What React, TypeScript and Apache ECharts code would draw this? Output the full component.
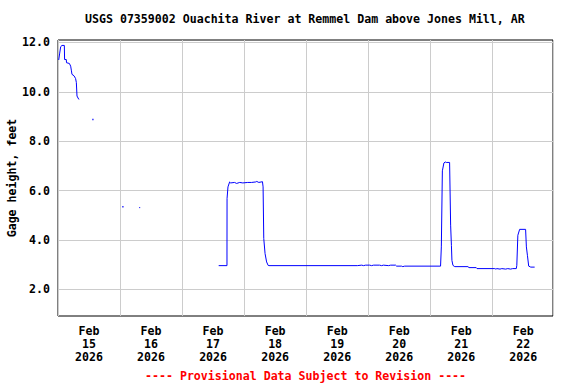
import React, { useEffect, useRef } from "react";
import * as echarts from "echarts";

const TITLE = "USGS 07359002 Ouachita River at Remmel Dam above Jones Mill, AR";
const Y_NAME = "Gage height, feet";
const FOOTER = "---- Provisional Data Subject to Revision ----";

// x in hours since Feb 15 2026 00:00
const X_MAX = 191.5;
const dayLabels = [
  "Feb\n15\n2026",
  "Feb\n16\n2026",
  "Feb\n17\n2026",
  "Feb\n18\n2026",
  "Feb\n19\n2026",
  "Feb\n20\n2026",
  "Feb\n21\n2026",
  "Feb\n22\n2026",
];
const dayLabelHours = [12, 36, 60, 84, 108, 132, 156, 180];
const yTicks = [2, 4, 6, 8, 10, 12];

const hours: number[] = [
  0.27, 0.66, 1.04, 1.55, 2.45, 2.55, 3.2, 3.3, 4.4, 4.9, 5.2, 5.4, 6.2, 6.8, 7.1, 7.35, 7.75, 8.1,
  20,
  31.4, 31.8,
  45,
  62.16, 65.37, 65.4, 65.76, 66.4, 66.8, 68.3, 69.1, 70.3, 71.5, 73.4, 74.9, 76.5, 76.9, 77.7, 79.1,
  79.34, 79.6, 80.1, 80.7, 81.3, 81.6, 115.8, 115.9, 117.5, 118.2, 119.0, 120.6, 121.3, 122.1, 124.4,
  125.2, 125.9, 127.9, 128.7, 130.6, 131.0, 132.9, 133.4, 134.1, 148.0, 148.3, 148.7, 149.3, 149.8,
  150.2, 151.5, 151.9, 152.2, 152.4, 152.8, 153.5, 158.6, 159.0, 161.8, 162.1, 169.0, 169.4, 169.8,
  171.0, 171.7, 173.2, 174.0, 175.1, 175.9, 177.3, 177.5, 177.9, 178.6, 180.9, 181.2, 181.6, 182.1,
  182.9, 184.4,
];
const gage: (number | null)[] = [
  11.29, 11.57, 11.83, 11.88, 11.88, 11.31, 11.31, 11.18, 11.15, 11.04, 10.85, 10.71, 10.65, 10.54, 10.38, 9.83, 9.75, 9.69,
  null,
  5.31, 5.31,
  null,
  2.96, 2.96, 5.68, 6.15, 6.35, 6.31, 6.33, 6.29, 6.33, 6.31, 6.33, 6.33, 6.35, 6.37, 6.33, 6.36,
  6.15, 4.06, 3.45, 3.11, 2.97, 2.96, 2.96, 2.98, 2.98, 2.96, 2.98, 2.98, 2.96, 2.98, 2.98,
  2.96, 2.98, 2.96, 2.98, 2.98, 2.94, 2.94, 2.92, 2.94, 2.94, 3.72, 6.8, 7.12, 7.16,
  7.14, 7.14, 4.6, 3.78, 3.17, 2.97, 2.92, 2.92, 2.88, 2.88, 2.84, 2.84, 2.82, 2.84,
  2.82, 2.84, 2.82, 2.84, 2.82, 2.84, 2.84, 2.97, 4.19, 4.43, 4.43, 3.72, 3.38, 2.94,
  2.9, 2.9,
];
const dotHours = [13.5, 25.1];
const dotGage = [8.88, 5.35];

const FONT = "DejaVu Sans Mono";

export default function App() {
  const ref = useRef<HTMLDivElement>(null);
  useEffect(() => {
    document.body.style.margin = "0";
    if (!ref.current) return;
    const chart = echarts.init(ref.current, null, { renderer: "svg" });
    const lineData = hours.map((h, i) => [h, gage[i]]);
    const dotData = dotHours.map((h, i) => [h, dotGage[i]]);
    chart.setOption({
      animation: false,
      backgroundColor: "#ffffff",
      title: [
        {
          text: TITLE,
          left: 85,
          top: 13,
          padding: 0,
          textStyle: { fontFamily: FONT, fontWeight: "bold", fontSize: 11.6, color: "#000" },
        },
        {
          text: FOOTER,
          left: 145,
          top: 370,
          padding: 0,
          textStyle: { fontFamily: FONT, fontWeight: "bold", fontSize: 11.6, color: "#ff0000" },
        },
      ],
      grid: {
        left: 58,
        top: 40,
        width: 495,
        height: 276,
        containLabel: false,
        outerBoundsMode: "none",
        show: true,
        borderColor: "#000",
        borderWidth: 1,
        backgroundColor: "transparent",
      },
      xAxis: {
        type: "value",
        min: 0,
        max: X_MAX,
        interval: 24,
        axisLine: { show: false },
        axisTick: { show: false },
        splitLine: { show: true, lineStyle: { color: "#cccccc", width: 1 } },
        axisLabel: {
          customValues: dayLabelHours,
          margin: 8,
          lineHeight: 13,
          fontFamily: FONT,
          fontWeight: "bold",
          fontSize: 11.6,
          color: "#000",
          formatter: (v: number) => {
            const i = dayLabelHours.indexOf(v);
            return i >= 0 ? dayLabels[i] : "";
          },
        },
      },
      yAxis: {
        type: "value",
        min: 0.92,
        max: 12.1,
        name: Y_NAME,
        nameLocation: "middle",
        nameGap: 40,
        nameRotate: 90,
        nameMoveOverlap: false,
        nameTextStyle: { fontFamily: FONT, fontWeight: "bold", fontSize: 11.6, color: "#000" },
        axisLine: { show: false },
        axisTick: { show: false, customValues: yTicks },
        splitLine: { show: true, lineStyle: { color: "#cccccc", width: 1 } },
        axisLabel: {
          customValues: yTicks,
          margin: 8,
          fontFamily: FONT,
          fontWeight: "bold",
          fontSize: 11.6,
          color: "#000",
          formatter: (v: number) => v.toFixed(1),
        },
      },
      series: [
        {
          type: "line",
          data: lineData,
          showSymbol: false,
          connectNulls: false,
          lineStyle: { color: "#0000ff", width: 1 },
          itemStyle: { color: "#0000ff" },
        },
        {
          type: "scatter",
          data: dotData,
          symbol: "rect",
          symbolSize: [1.5, 1.5],
          itemStyle: { color: "#0000ff" },
        },
      ],
    });
    return () => chart.dispose();
  }, []);
  return <div ref={ref} style={{ width: 576, height: 384 }} />;
}
